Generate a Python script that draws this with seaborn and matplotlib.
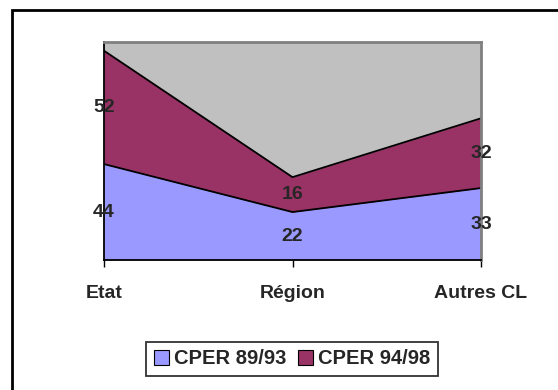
import matplotlib
matplotlib.use("Agg")
import matplotlib.pyplot as plt
import seaborn as sns
import numpy as np
from matplotlib.patches import Rectangle

# donnees
categories = ["Etat", "Région", "Autres CL"]
cper_89_93 = [44, 22, 33]
cper_94_98 = [52, 16, 32]
series_names = ["CPER 89/93", "CPER 94/98"]
colors = ["#9999FF", "#993366"]

sns.set_style("white")
plt.rcParams["font.family"] = ["Liberation Sans", "DejaVu Sans"]

fig = plt.figure(figsize=(5.58, 3.9), dpi=100)
ax = fig.add_axes([104 / 558, 1 - 260 / 390, (481 - 104) / 558, (260 - 42) / 390])
ax.set_facecolor("#C0C0C0")

x = np.arange(len(categories))
low = np.array(cper_89_93)
high = low + np.array(cper_94_98)

ax.fill_between(x, 0, low, color=colors[0], linewidth=0, label=series_names[0])
ax.fill_between(x, low, high, color=colors[1], linewidth=0, label=series_names[1])
sns.lineplot(x=x, y=low, ax=ax, color="black", linewidth=1.3, legend=False)
sns.lineplot(x=x, y=high, ax=ax, color="black", linewidth=1.3, legend=False)

# etiquettes
for i in range(len(categories)):
    ax.text(x[i], low[i] / 2, str(cper_89_93[i]), ha="center", va="center",
            fontsize=14, fontweight="bold")
    ax.text(x[i], low[i] + cper_94_98[i] / 2, str(cper_94_98[i]), ha="center",
            va="center", fontsize=14, fontweight="bold")

ax.set_xlim(0, len(categories) - 1)
ax.set_ylim(0, 100)
ax.set_xticks(x)
ax.set_xticklabels(categories, fontsize=14, fontweight="bold")
ax.set_yticks([])
ax.tick_params(axis="x", direction="out", length=5, width=1, color="black", pad=13, bottom=True)

for side in ["left", "bottom"]:
    ax.spines[side].set_color("black")
    ax.spines[side].set_linewidth(1.3)
for side in ["top", "right"]:
    ax.spines[side].set_color("#808080")
    ax.spines[side].set_linewidth(2)

leg = fig.legend(loc="center", bbox_to_anchor=(292 / 558, 1 - 359 / 390), ncol=2,
                 frameon=True, fancybox=False, edgecolor="black",
                 prop={"weight": "bold", "size": 14.5}, handlelength=0.75, handleheight=0.75,
                 handletextpad=0.25, columnspacing=0.6, borderpad=0.35)
leg.get_frame().set_linewidth(1.3)
for h in leg.legend_handles:
    h.set_edgecolor("black")
    h.set_linewidth(0.8)

# cadre exterieur
fig.patches.append(Rectangle((12 / 558, -0.05), 1.2, 1 - 10 / 390 + 0.05, transform=fig.transFigure,
                             fill=False, edgecolor="black", linewidth=2))

fig.savefig("out.png", dpi=100)
